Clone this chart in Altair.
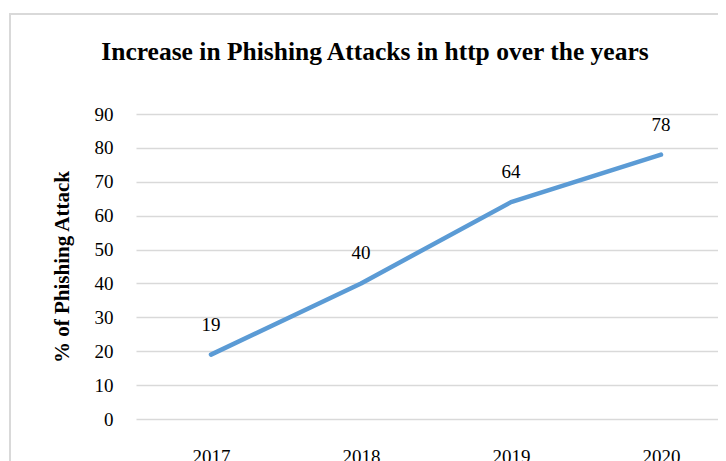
import altair as alt
import pandas as pd

years = ["2017", "2018", "2019", "2020"]
values = [19, 40, 64, 78]
y_ticks = [0, 10, 20, 30, 40, 50, 60, 70, 80, 90]
title_text = "Increase in Phishing Attacks in http over the years"

df = pd.DataFrame({"year": years, "value": values})
FONT = "Liberation Serif"

base = alt.Chart(df)

x_enc = alt.X("year:N", sort=years,
              scale=alt.Scale(paddingInner=0, paddingOuter=0.5, range=[0, 600]),
              axis=alt.Axis(title=None, labelAngle=0, labelFont=FONT, labelFontSize=19,
                            labelColor="#000000", ticks=False, domain=False,
                            labelPadding=28, grid=False))
y_enc = alt.Y("value:Q", scale=alt.Scale(domain=[0, 90], nice=False),
              axis=alt.Axis(values=y_ticks, title="% of Phishing Attack",
                            titleFont=FONT, titleFontSize=21, titleFontWeight="bold",
                            titleColor="#000000", titlePadding=22,
                            labelFont=FONT, labelFontSize=19, labelColor="#000000",
                            labelPadding=23, ticks=False, domain=False, labelOverlap=False,
                            grid=True, gridColor="#D9D9D9", gridWidth=1.3))

border = base.mark_rect(
    fillOpacity=0, stroke="#D9D9D9", strokeWidth=2, clip=False
).encode(
    x=alt.value(-126), x2=alt.value(700), y=alt.value(-100), y2=alt.value(400)
).transform_filter("datum.year == '2017'")

title = base.mark_text(
    text=title_text, font=FONT, fontSize=25.5, fontWeight="bold", color="#000000",
    align="center", baseline="middle", clip=False
).encode(
    x=alt.value(239), y=alt.value(-62)
).transform_filter("datum.year == '2017'")

line = base.mark_line(
    color="#5B9BD5", strokeWidth=4.5, strokeCap="round", strokeJoin="round"
).encode(x=x_enc, y=y_enc)

labels = base.mark_text(
    font=FONT, fontSize=19, color="#000000", dy=-30, baseline="middle"
).encode(x=x_enc, y=y_enc, text="value:Q")

chart = alt.layer(border, line, labels, title).properties(
    width=582, height=305,
    padding={"left": 128, "top": 106, "right": 0, "bottom": 45},
    autosize=alt.AutoSizeParams(type="none"),
).configure_view(stroke=None)

chart.save("out.html", embed_options={"renderer": "svg", "actions": False})
